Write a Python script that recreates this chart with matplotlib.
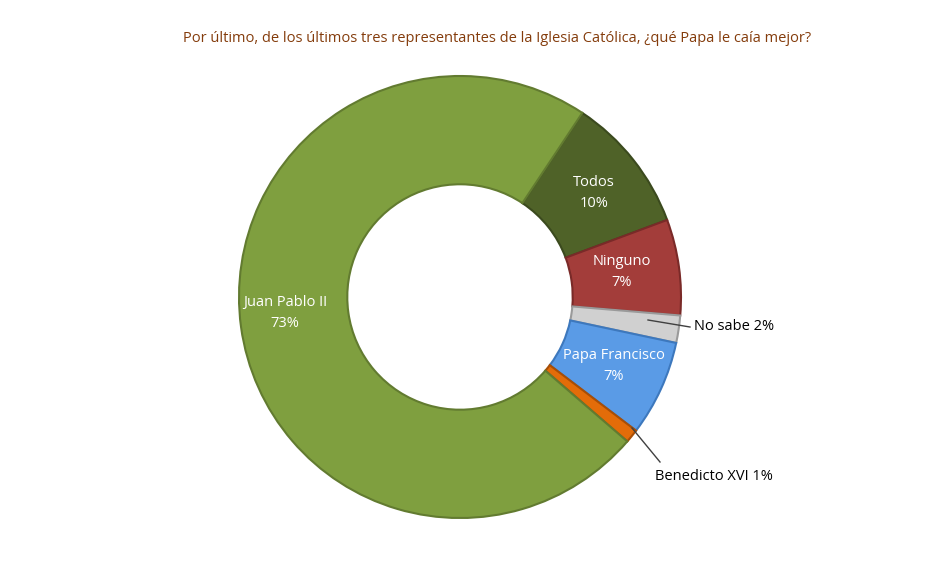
import matplotlib
matplotlib.use('agg')
import matplotlib.pyplot as plt

labels = ['Todos', 'Ninguno', 'No sabe', 'Papa Francisco', 'Benedicto XVI', 'Juan Pablo II']
values = [10, 7, 2, 7, 1, 73]
colors = ['#4f6228', '#a33d3a', '#d0d0d0', '#5a9be6', '#e36c09', '#7f9f3f']
edges = ['#3b4a1e', '#7a2a28', '#9a9a9a', '#3d78bd', '#a84e05', '#627b30']

plt.rcParams['font.family'] = ['Open Sans', 'DejaVu Sans']

fig = plt.figure(figsize=(9.28, 5.63), dpi=100)
ax = fig.add_axes([0, 0, 1, 1])
ax.set_xlim(0, 928)
ax.set_ylim(0, 563)
ax.set_aspect('equal')
ax.axis('off')

H = 563
cx, cy, r = 460, H - 297, 221
wedges, _ = ax.pie(values, colors=colors, startangle=56.4, counterclock=False,
                   radius=r, center=(cx, cy), frame=True,
                   wedgeprops=dict(width=r * 0.49, linewidth=1.5))
for w, ec in zip(wedges, edges):
    w.set_edgecolor(ec)
ax.set_xlim(0, 928)
ax.set_ylim(0, 563)
ax.axis('off')

ax.text(594, H - 193, 'Todos\n10%', color='white', ha='center', va='center', fontsize=10.5, linespacing=1.5)
ax.text(622, H - 272, 'Ninguno\n7%', color='white', ha='center', va='center', fontsize=10.5, linespacing=1.5)
ax.text(614, H - 366, 'Papa Francisco\n7%', color='white', ha='center', va='center', fontsize=10.5, linespacing=1.5)
ax.text(285, H - 313, 'Juan Pablo II\n73%', color='white', ha='center', va='center', fontsize=10.5, linespacing=1.5)

ax.plot([648, 690], [H - 320, H - 327], color='#404040', lw=1)
ax.text(694, H - 327, 'No sabe 2%', color='black', ha='left', va='center', fontsize=10.5)
ax.plot([632, 660], [H - 428, H - 462], color='#404040', lw=1)
ax.text(655, H - 476, 'Benedicto XVI 1%', color='black', ha='left', va='center', fontsize=10.5)

fig.text(497 / 928, 1 - 38 / 563,
         'Por último, de los últimos tres representantes de la Iglesia Católica, ¿qué Papa le caía mejor?',
         color='#843c0c', ha='center', va='center', fontsize=10.5)

fig.savefig('out.png')
